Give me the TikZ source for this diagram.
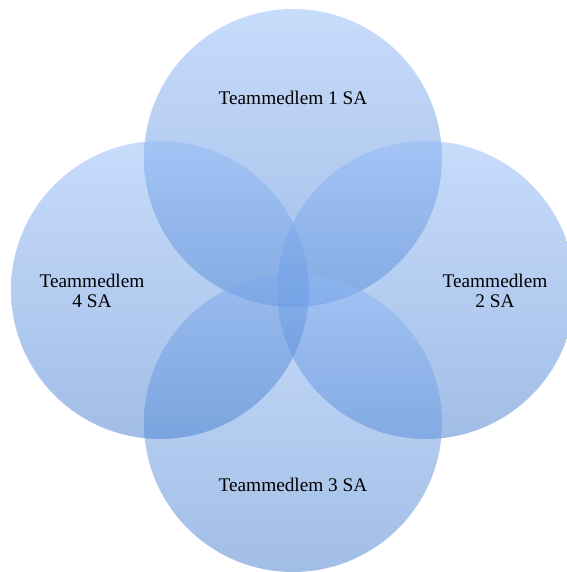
\documentclass[tikz,border=0pt]{standalone}
\usepackage{fontspec}
\setmainfont{Liberation Serif}
\definecolor{ctop}{RGB}{145,185,248}
\definecolor{cbot}{RGB}{68,125,205}
\tikzset{
  member/.style={circle, minimum size=298pt, inner sep=0pt, draw=none,
    top color=ctop, bottom color=cbot, fill opacity=0.5},
  label/.style={font=\fontsize{19.3}{20.5}\selectfont, align=center, text=black, text opacity=1}
}
\begin{document}
\begin{tikzpicture}[x=1pt,y=-1pt]
\useasboundingbox (0,0) rectangle (566,572);
\node[member] (c1) at (293,158) {};
\node[member] (c2) at (426,290) {};
\node[member] (c3) at (293,423) {};
\node[member] (c4) at (160,290) {};
\node[label] (t1) at (293,98) {Teammedlem 1 SA};
\node[label] (t2) at (495,291) {Teammedlem\\2 SA};
\node[label] (t3) at (293,485) {Teammedlem 3 SA};
\node[label] (t4) at (92,291) {Teammedlem\\4 SA};
\end{tikzpicture}
\end{document}
